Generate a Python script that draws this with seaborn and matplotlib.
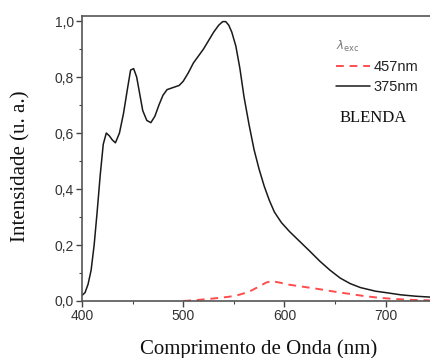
import matplotlib
matplotlib.use("Agg")
import matplotlib.pyplot as plt
import seaborn as sns
import pandas as pd
from matplotlib.ticker import MultipleLocator, FuncFormatter
from matplotlib.lines import Line2D

# Emission under 375 nm excitation
wl_375 = [400, 403, 406, 409, 412, 415, 418, 421, 424, 427, 430, 433, 437, 441, 445, 448, 451, 454,
          457, 460, 464, 468, 472, 476, 480, 484, 488, 492, 496, 500, 505, 510, 515, 520, 525, 530,
          535, 539, 542, 545, 548, 552, 556, 560, 565, 570, 575, 580, 585, 590, 597, 605, 615, 625,
          635, 645, 655, 665, 675, 690, 700, 715, 730, 748]
int_375 = [0.02, 0.03, 0.06, 0.11, 0.20, 0.32, 0.45, 0.56, 0.60, 0.59, 0.575, 0.565, 0.60, 0.67,
           0.76, 0.825, 0.83, 0.80, 0.74, 0.68, 0.645, 0.637, 0.66, 0.70, 0.735, 0.755, 0.76, 0.765,
           0.77, 0.785, 0.815, 0.85, 0.875, 0.90, 0.93, 0.96, 0.985, 0.998, 0.998, 0.985, 0.96,
           0.91, 0.83, 0.73, 0.63, 0.54, 0.47, 0.41, 0.36, 0.318, 0.28, 0.248, 0.213, 0.178,
           0.142, 0.11, 0.082, 0.062, 0.048, 0.035, 0.030, 0.022, 0.017, 0.013]

# Emission under 457 nm excitation
wl_457 = [500, 515, 530, 545, 555, 565, 575, 582, 587, 595, 605, 620, 635, 650, 665, 680, 695,
          710, 725, 748]
int_457 = [0.0, 0.004, 0.009, 0.015, 0.022, 0.033, 0.052, 0.066, 0.071, 0.066, 0.058, 0.050,
           0.042, 0.033, 0.025, 0.017, 0.011, 0.007, 0.004, 0.002]

x_ticks = [400, 500, 600, 700]
y_ticks = [0.0, 0.2, 0.4, 0.6, 0.8, 1.0]
legend_labels = ["457nm", "375nm"]

sns.set_theme(style="ticks")
plt.rcParams['font.family'] = ['Liberation Sans', 'DejaVu Sans']

fig = plt.figure(figsize=(4.3, 3.58), dpi=100)
ax = fig.add_axes([82 / 430, 1 - 301 / 358, 1 - 82 / 430 + 0.01, (301 - 16) / 358])

df375 = pd.DataFrame({"wl": wl_375, "I": int_375})
df457 = pd.DataFrame({"wl": wl_457, "I": int_457})

red = "#ff4d4d"
sns.lineplot(data=df375, x="wl", y="I", ax=ax, color="#1a1a1a", linewidth=1.1)
sns.lineplot(data=df457, x="wl", y="I", ax=ax, color=red, linewidth=1.4, linestyle=(0, (4, 3)))

ax.set_xlim(400, 748)
ax.set_ylim(0, 1.018)
ax.set_xticks(x_ticks)
ax.set_yticks(y_ticks)
ax.xaxis.set_minor_locator(MultipleLocator(50))
ax.yaxis.set_minor_locator(MultipleLocator(0.1))
ax.yaxis.set_major_formatter(FuncFormatter(lambda v, p: f"{v:.1f}".replace(".", ",")))

ax.tick_params(axis="both", which="major", direction="out", length=4, width=1,
               labelsize=10, colors="#444444", labelcolor="#333333", pad=2)
ax.tick_params(axis="both", which="minor", direction="out", length=2.5, width=0.8, colors="#444444")

for s in ["left", "bottom", "top"]:
    ax.spines[s].set_color("#555555")
    ax.spines[s].set_linewidth(1.2)
ax.spines["right"].set_visible(False)

ax.set_xlabel("Comprimento de Onda (nm)", family=["Liberation Serif"], fontsize=15,
              color="#111111")
ax.set_ylabel("Intensidade (u. a.)", family=["Liberation Serif"], fontsize=15,
              color="#111111")
ax.xaxis.set_label_coords(0.5, -0.135)
ax.yaxis.set_label_coords(-0.145, 0.474)

handles = [Line2D([0], [0], color=red, linewidth=1.4, linestyle=(0, (4, 3))),
           Line2D([0], [0], color="#1a1a1a", linewidth=1.1)]
leg = ax.legend(handles, legend_labels, frameon=False,
                loc="upper left", bbox_to_anchor=(0.705, 0.867), fontsize=10.5,
                handlelength=2.3, handletextpad=0.25, labelspacing=0.42,
                borderaxespad=0)
for t in leg.get_texts():
    t.set_color("#222222")

ax.text(0.72, 0.88, r"$\lambda_{\mathrm{exc}}$", transform=ax.transAxes,
        fontsize=8.5, color="#777777")

ax.text(0.73, 0.628, "BLENDA", transform=ax.transAxes, family=["Liberation Serif"],
        fontsize=12, color="#111111")

fig.savefig("out.png", dpi=100)
